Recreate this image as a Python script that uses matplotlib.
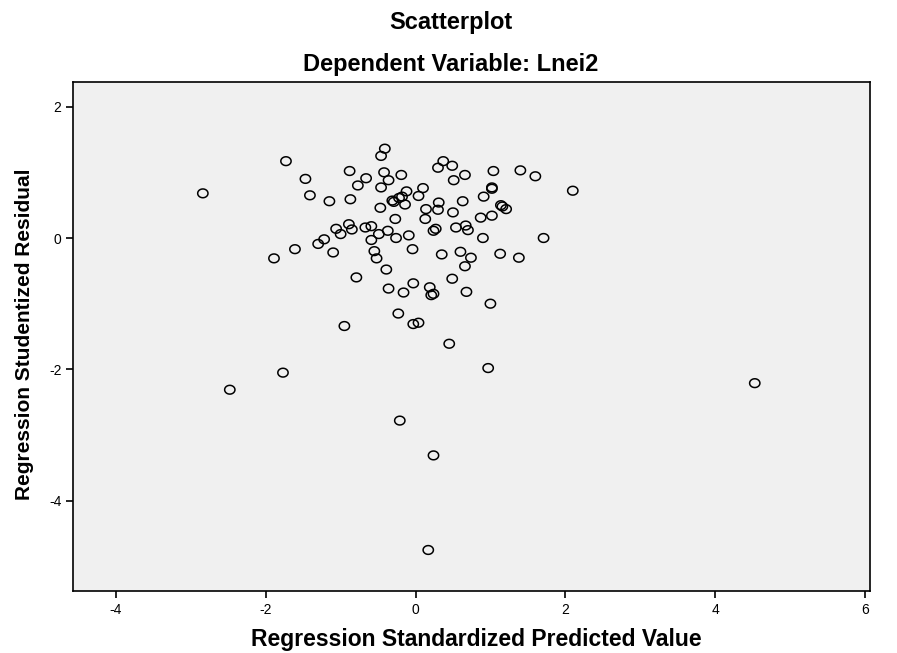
import matplotlib
matplotlib.use("Agg")
import matplotlib.pyplot as plt
import numpy as np
from matplotlib.path import Path

plt.rcParams['font.family'] = ['Liberation Sans', 'DejaVu Sans']
plt.rcParams['axes.unicode_minus'] = False

# regression standardized predicted value
pred = [-2.84, -1.73, -1.47, -1.41, -1.15, -0.88, -0.87, -0.77, -0.66, -0.41,
        -0.46, -0.42, -0.36, -0.46, -0.19, -0.12, -0.18, -0.22, -0.31, -0.29,
        -0.14, -0.47, -0.27, 0.04, 0.10, 0.30, 0.37, 0.49, 0.51, 0.66,
        0.31, 0.30, 0.14, 0.13, 0.50, 0.63, 1.04, 0.91, 1.02, 1.02,
        1.40, 1.60, 2.10, 1.14, 1.16, 1.21, 0.87, 1.02, 0.54, 0.67,
        0.70, 0.90, 1.71, 0.24, 0.27, -0.89, -1.06, -1.00, -0.85, -0.67,
        -0.59, -0.49, -0.37, -0.26, -0.09, -0.59, -1.30, -1.22, -1.10, -0.55,
        -0.52, -0.04, 0.35, 0.60, 0.74, 1.13, 1.38, 0.66, -0.39, -0.79,
        -0.36, -0.16, -0.03, 0.19, 0.21, 0.24, 0.49, 0.68, 1.00, -0.23,
        -0.03, 0.04, -0.95, 0.45, 0.97, -1.61, -1.89, -1.77, -2.48, -0.21,
        0.24, 0.17, 4.53]

# regression studentized residual
resid = [0.68, 1.17, 0.90, 0.65, 0.56, 1.02, 0.59, 0.80, 0.91, 1.36,
         1.25, 1.00, 0.88, 0.77, 0.96, 0.71, 0.63, 0.61, 0.57, 0.55,
         0.51, 0.46, 0.29, 0.64, 0.76, 1.07, 1.17, 1.10, 0.88, 0.96,
         0.54, 0.43, 0.44, 0.29, 0.39, 0.56, 1.02, 0.63, 0.75, 0.77,
         1.03, 0.94, 0.72, 0.50, 0.48, 0.44, 0.31, 0.34, 0.16, 0.19,
         0.12, 0.00, 0.00, 0.11, 0.14, 0.21, 0.14, 0.06, 0.13, 0.16,
         0.18, 0.06, 0.11, 0.00, 0.04, -0.03, -0.09, -0.02, -0.22, -0.20,
         -0.31, -0.17, -0.25, -0.21, -0.30, -0.24, -0.30, -0.43, -0.48, -0.60,
         -0.77, -0.83, -0.69, -0.75, -0.87, -0.85, -0.62, -0.82, -1.00, -1.15,
         -1.31, -1.29, -1.34, -1.61, -1.98, -0.17, -0.31, -2.05, -2.31, -2.78,
         -3.31, -4.75, -2.21]

# slightly flattened circle, as drawn by SPSS
t = np.linspace(0, 2 * np.pi, 60)
ellipse = Path(np.column_stack([np.cos(t), 0.85 * np.sin(t)]), closed=True)

fig = plt.figure(figsize=(8.97, 6.53), dpi=100)
ax = fig.add_axes([0.0817, 0.0954, 0.8883, 0.7795])
ax.set_facecolor('#f0f0f0')

ax.scatter(pred, resid, marker=ellipse, s=55, facecolors='none',
           edgecolors='black', linewidths=1.1)

ax.set_xlim(-4.57, 6.07)
ax.set_ylim(-5.37, 2.38)
ax.set_xticks([-4, -2, 0, 2, 4, 6])
ax.set_yticks([-4, -2, 0, 2])
ax.tick_params(direction='out', length=5, width=1.2, labelsize=10, colors='black')
for s in ax.spines.values():
    s.set_linewidth(1.2)

fig.text(451 / 897, 1 - 29 / 653, 'Scatterplot', ha='center', va='baseline',
         fontsize=17, fontweight='bold')
fig.text(451 / 897, 1 - 71 / 653, 'Dependent Variable: Lnei2', ha='center', va='baseline',
         fontsize=17, fontweight='bold')
fig.text(476 / 897, 1 - 646 / 653, 'Regression Standardized Predicted Value',
         ha='center', va='baseline', fontsize=16.5, fontweight='bold')
fig.text(25 / 897, 1 - 334 / 653, 'Regression Studentized Residual', ha='center',
         va='center', rotation=90, fontsize=15, fontweight='bold')

fig.savefig('out.png', dpi=100)
